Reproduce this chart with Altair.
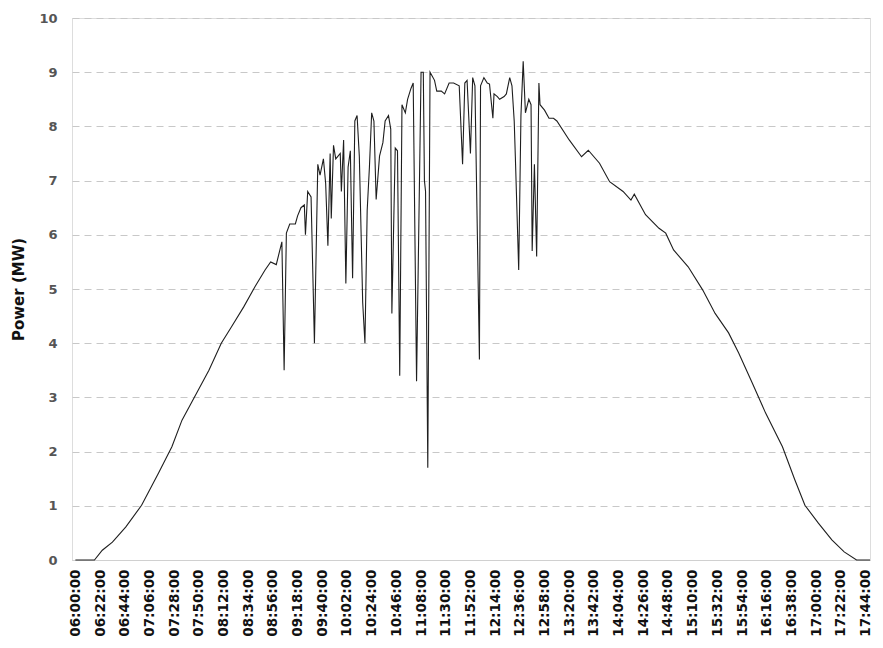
import altair as alt
import pandas as pd

# time of day (HH:MM) and power output (MW)
times = [
    "06:00", "06:17", "06:24", "06:33", "06:45", "06:59", "07:14", "07:26", "07:35", "07:47",
    "07:59", "08:10", "08:19", "08:30", "08:40", "08:49", "08:54", "08:59", "09:04", "09:06",
    "09:08", "09:11", "09:16", "09:18", "09:21", "09:24", "09:25", "09:27", "09:30", "09:33",
    "09:36", "09:38", "09:41", "09:43", "09:45", "09:47", "09:48", "09:50", "09:52", "09:56",
    "09:57", "09:59", "10:01", "10:03", "10:05", "10:07", "10:09", "10:11", "10:13", "10:16",
    "10:18", "10:20", "10:22", "10:24", "10:26", "10:28", "10:31", "10:34", "10:36", "10:39",
    "10:41", "10:42", "10:45", "10:47", "10:49", "10:51", "10:54", "10:56", "10:59", "11:01",
    "11:04", "11:08", "11:10", "11:11", "11:12", "11:14", "11:16", "11:20", "11:22", "11:26",
    "11:29", "11:33", "11:37", "11:42", "11:45", "11:47", "11:49", "11:52", "11:54", "11:56",
    "12:00", "12:01", "12:04", "12:07", "12:09", "12:12", "12:13", "12:16", "12:18", "12:22",
    "12:24", "12:27", "12:29", "12:31", "12:32", "12:35", "12:37", "12:39", "12:41", "12:44",
    "12:46", "12:47", "12:49", "12:51", "12:53", "12:54", "12:58", "13:02", "13:06", "13:09",
    "13:20", "13:31", "13:37", "13:47", "13:56", "14:08", "14:15", "14:18", "14:28", "14:40",
    "14:46", "14:53", "15:06", "15:19", "15:30", "15:42", "15:51", "16:03", "16:15", "16:30",
    "16:41", "16:50", "17:02", "17:14", "17:25", "17:36", "17:48",
]
power = [
    0.0, 0.0, 0.18, 0.33, 0.61, 1.01, 1.6, 2.09, 2.58, 3.04,
    3.5, 4.0, 4.3, 4.67, 5.04, 5.35, 5.5, 5.45, 5.87, 3.5,
    6.03, 6.2, 6.2, 6.35, 6.5, 6.55, 6.0, 6.8, 6.7, 4.0,
    7.3, 7.1, 7.4, 6.95, 5.8, 7.5, 6.3, 7.65, 7.4, 7.5,
    6.8, 7.75, 5.1, 7.25, 7.55, 5.2, 8.1, 8.2, 7.45, 4.75,
    4.0, 6.45, 7.25, 8.25, 8.1, 6.65, 7.45, 7.7, 8.1, 8.2,
    7.95, 4.55, 7.6, 7.55, 3.4, 8.4, 8.25, 8.5, 8.7, 8.8,
    3.3, 9.0, 9.0, 7.0, 6.8, 1.7, 9.0, 8.85, 8.65, 8.65,
    8.6, 8.8, 8.8, 8.75, 7.3, 8.8, 8.85, 7.5, 8.9, 8.75,
    3.7, 8.75, 8.9, 8.8, 8.78, 8.15, 8.6, 8.55, 8.5, 8.55,
    8.6, 8.9, 8.75, 8.1, 7.45, 5.35, 8.2, 9.2, 8.25, 8.5,
    8.4, 5.7, 7.3, 5.6, 8.8, 8.4, 8.3, 8.15, 8.15, 8.1,
    7.75, 7.44, 7.56, 7.32, 6.98, 6.8, 6.64, 6.75, 6.37, 6.12,
    6.03, 5.72, 5.41, 4.98, 4.55, 4.19, 3.82, 3.27, 2.71, 2.09,
    1.48, 1.01, 0.68, 0.37, 0.15, 0.0, 0.0,
]
# x-axis tick labels (every 22 minutes)
tick_labels = [
    "06:00", "06:22", "06:44", "07:06", "07:28", "07:50", "08:12", "08:34", "08:56",
    "09:18", "09:40", "10:02", "10:24", "10:46", "11:08", "11:30", "11:52", "12:14",
    "12:36", "12:58", "13:20", "13:42", "14:04", "14:26", "14:48", "15:10", "15:32",
    "15:54", "16:16", "16:38", "17:00", "17:22", "17:44",
]
y_ticks = [0, 1, 2, 3, 4, 5, 6, 7, 8, 9, 10]


def to_min(hhmm):
    h, m = hhmm.split(":")
    return (int(h) - 6) * 60 + int(m)


df = pd.DataFrame({"t": [to_min(t) for t in times], "power": power})
tick_vals = [to_min(t) for t in tick_labels]

FONT = "DejaVu Sans"

chart = (
    alt.Chart(df)
    .mark_line(color="#1e1e1e", strokeWidth=1.1, interpolate="linear")
    .encode(
        x=alt.X(
            "t:Q",
            scale=alt.Scale(domain=[-3, 708], nice=False, zero=False),
            axis=alt.Axis(
                values=tick_vals,
                labelExpr="timeFormat(datetime(2024, 0, 1, 6, datum.value), '%H:%M:%S')",
                labelAngle=-90,
                labelFont=FONT,
                labelFontSize=13.5,
                labelFontWeight="bold",
                labelColor="#111111",
                labelPadding=9,
                labelOverlap=False,
                labelFlush=False,
                ticks=False,
                grid=False,
                domain=True,
                domainColor="#d0d0d0",
                domainWidth=1.2,
                title=None,
            ),
        ),
        y=alt.Y(
            "power:Q",
            scale=alt.Scale(domain=[0, 10], nice=False),
            axis=alt.Axis(
                values=y_ticks,
                labelFont=FONT,
                labelFontSize=13,
                labelFontWeight="bold",
                labelColor="#555555",
                labelPadding=15,
                ticks=False,
                domain=False,
                grid=True,
                gridColor="#c8c8c8",
                gridDash=[7, 5],
                gridWidth=1,
                title="Power (MW)",
                titleFont=FONT,
                titleFontSize=15,
                titleFontWeight="bold",
                titleColor="#111111",
                titleAngle=-90,
                titleAlign="center",
                titleBaseline="middle",
                titleX=-54,
                titleY=271,
            ),
        ),
    )
    .properties(
        width=798,
        height=542,
        autosize=alt.AutoSizeParams(type="none"),
        padding={"left": 64, "top": 10, "right": 5, "bottom": 76},
    )
    .configure_view(stroke=None)
    .configure(background="white")
)

chart.save("out.html", embed_options={"renderer": "svg", "actions": False})
